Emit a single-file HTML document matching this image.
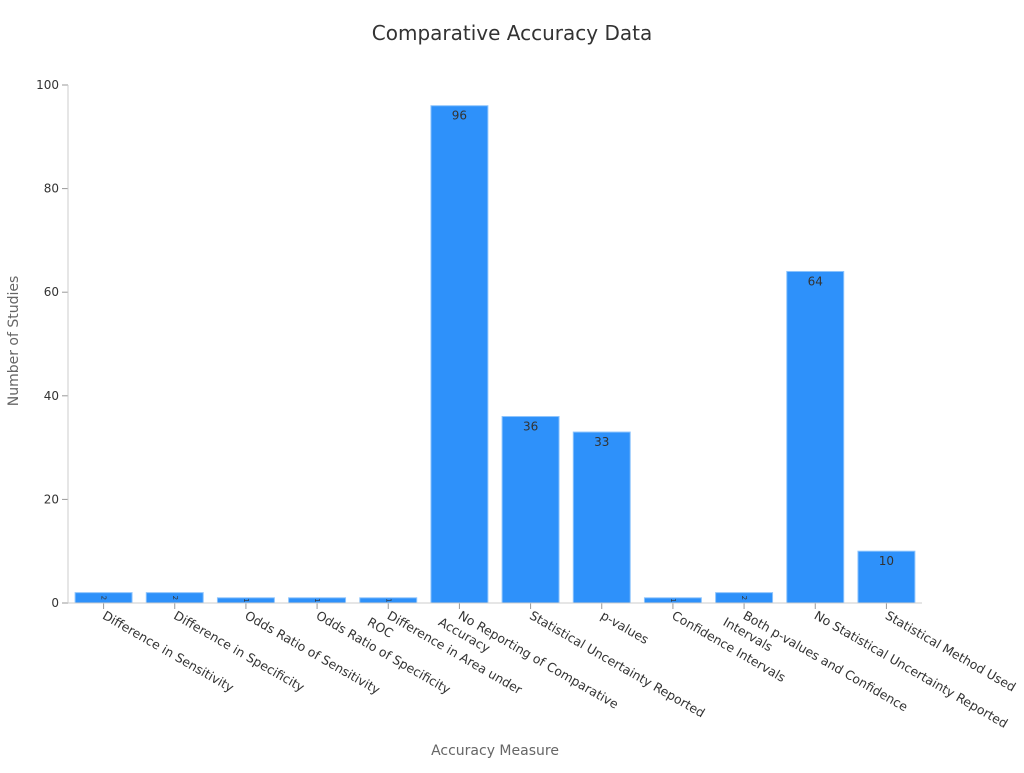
<!DOCTYPE html>
<html><head><meta charset="utf-8"><style>
body{margin:0;background:#fff}
svg text{font-family:"DejaVu Sans","Liberation Sans",sans-serif}
</style></head><body>
<svg id="c" width="1024" height="768">
<text x="512" y="40" text-anchor="middle" font-size="20" fill="#333">Comparative Accuracy Data</text>
<text x="495" y="755" text-anchor="middle" font-size="14" fill="#666">Accuracy Measure</text>
<text transform="translate(18,341) rotate(-90)" text-anchor="middle" font-size="14" fill="#666">Number of Studies</text>
<g id="g"></g>
</svg>
<script>
const categories=[["Difference in Sensitivity"],["Difference in Specificity"],["Odds Ratio of Sensitivity"],["Odds Ratio of Specificity"],["Difference in Area under","ROC"],["No Reporting of Comparative","Accuracy"],["Statistical Uncertainty Reported"],["p-values"],["Confidence Intervals"],["Both p-values and Confidence","Intervals"],["No Statistical Uncertainty Reported"],["Statistical Method Used"]];
const values=[2,2,1,1,1,96,36,33,1,2,64,10];
const yTicks=[0,20,40,60,80,100];
const NS="http://www.w3.org/2000/svg";
const g=document.getElementById('g');
const x0=68,x1=922,y0=603,y1=85,yMax=100;
const bw=(x1-x0)/categories.length;
const y=v=>y0-(v/yMax)*(y0-y1);
const xc=i=>x0+bw*(i+0.5);
function el(t,a,p){const e=document.createElementNS(NS,t);for(const k in a)e.setAttribute(k,a[k]);(p||g).appendChild(e);return e;}
yTicks.forEach(t=>{
  const l=el('line',{x1:x0-6,x2:x0,y1:y(t),y2:y(t),stroke:'#999'});
  
  
  const tx=el('text',{x:x0-9,y:y(t)+4,'text-anchor':'end','font-size':12,fill:'#333'});
  tx.textContent=t;
  
  
});
const ya=el('line',{x1:x0,x2:x0,y1:y1,y2:y0,stroke:'#ccc'});


values.forEach((v,i)=>{
  const w=bw*0.8,cx=xc(i);
  const r=el('rect',{x:cx-w/2,y:y(v),width:w,height:y0-y(v),fill:'#2e91fa',stroke:'#8cc3fc','stroke-width':1});
  
  
  let vt;
  if(v>=5){vt=el('text',{x:cx,y:y(v)+14,'text-anchor':'middle','font-size':12,fill:'#333'});}
  else{vt=el('text',{x:0,y:0,'text-anchor':'middle','font-size':7,fill:'#333',transform:`translate(${cx},${y(v)+(y0-y(v))/2}) rotate(90)`,'dominant-baseline':'middle'});}
  vt.textContent=v;
  
  
  const tk=el('line',{x1:cx,x2:cx,y1:y0,y2:y0+6,stroke:'#999'});
  
  
  const lab=el('text',{transform:`translate(${cx-2},${y0+15}) rotate(30)`,'font-size':12.5,fill:'#333'});
  
  
  categories[i].forEach((s,j)=>{
    const ts=el('tspan',{x:j?-14:0,dy:j?'1.25em':0},lab);ts.textContent=s;
  });
});
const xa=el('line',{x1:x0,x2:x1,y1:y0,y2:y0,stroke:'#ccc'});


</script>
</body></html>
